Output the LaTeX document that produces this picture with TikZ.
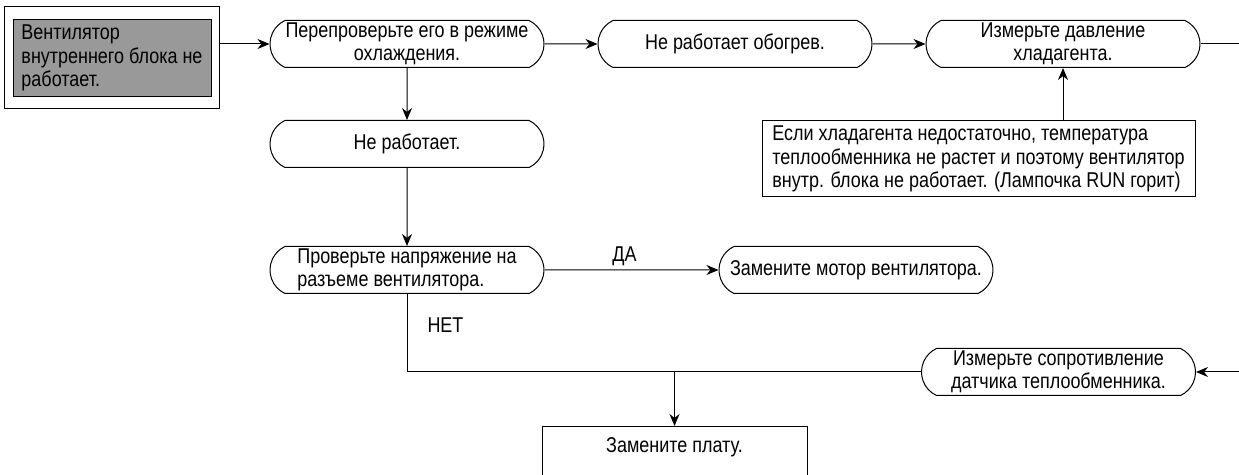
\documentclass[tikz,border=0pt]{standalone}
\usepackage{fontspec}
\setmainfont{Liberation Sans}[FakeStretch=0.84]
\usetikzlibrary{positioning, shapes.misc, arrows.meta, fit}
\definecolor{fangrey}{RGB}{153,153,153}

\begin{document}
\begin{tikzpicture}[
  x=0.5pt, y=-0.5pt,
  font=\fontsize{10.7pt}{11.6pt}\selectfont,
  node distance=26pt and 26.5pt,
  line width=0.5pt,
  term/.style={
    draw, rounded rectangle, rounded rectangle arc length=130,
    minimum width=137pt, minimum height=23.5pt,
    inner xsep=0pt, inner ysep=1pt, align=center
  },
  fanbox/.style={
    draw, fill=fangrey, minimum width=99pt, minimum height=38.5pt,
    inner xsep=3.5pt, inner ysep=2pt, align=left
  },
  notebox/.style={
    draw, minimum width=216.5pt, minimum height=38pt, inner ysep=2pt, align=left
  },
  boardbox/.style={
    draw, minimum width=132.5pt, text height=7.5pt, text depth=25pt, inner ysep=5.5pt
  },
  arrow/.style={-{Stealth[length=6pt, width=5pt]}},
  arrowlabel/.style={inner sep=2pt},
]
\useasboundingbox (0,0) rectangle (1239,475);

% start: fan box in a frame
\node[fanbox] (fan) at (112,58) {Вентилятор \\ внутреннего блока не \\ работает.};
\node[draw, fit=(fan), inner xsep=4pt, inner ysep=6pt] (fanframe) {};

% top row
\node[term] (recheck) at (407,44) {Перепроверьте его в режиме \\ охлаждения.};
\node[term, right=of recheck] (heatfail) {Не работает обогрев.};
\node[term, right=of heatfail] (pressure) {Измерьте давление \\ хладагента.};

% left column
\node[term, below=of recheck] (notwork) {Не работает.};
\node[term, below=39pt of notwork, align=left] (voltage) {Проверьте напряжение на \\ разъеме вентилятора.};
\node[term, right=87pt of voltage] (motor) {Замените мотор вентилятора.};

% right side
\node[notebox] (refnote) at (978.5,159) {Если хладагента недостаточно, температура \\ теплообменника не растет и поэтому вентилятор \\ внутр. блока не работает. (Лампочка RUN горит)};
\node[term] (sensor) at (1058.5,372) {Измерьте сопротивление \\ датчика теплообменника.};
\node[boardbox, anchor=north] (board) at (674.5,426) {Замените плату.};

\draw[arrow] (fanframe.east |- recheck.west) -- (recheck.west);
\draw[arrow] (recheck) -- (heatfail);
\draw[arrow] (heatfail) -- (pressure);
\draw[arrow] (recheck) -- (notwork);
\draw[arrow] (notwork) -- (voltage);
\draw[arrow] (voltage) -- node[arrowlabel, above, pos=0.46] {ДА} (motor);
\draw[arrow] (refnote.north -| pressure.south) -- (pressure.south);
\draw[arrow] (pressure.east) -- ++(21pt,0) |- (sensor.east);
\draw (voltage.south) |- node[arrowlabel, pos=0.2, right, xshift=8pt] {НЕТ} (sensor.west);
\draw[arrow] (board.north |- sensor.west) -- (board.north);

\end{tikzpicture}
\end{document}
